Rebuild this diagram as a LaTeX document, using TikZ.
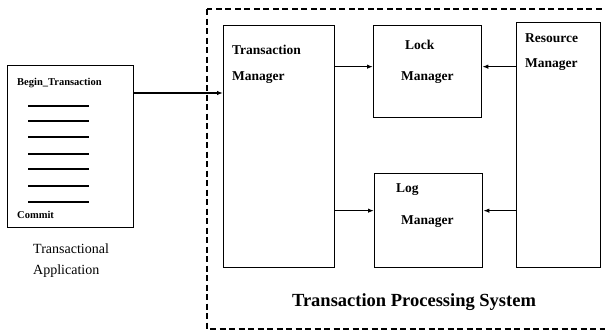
\documentclass[tikz,border=0pt]{standalone}
\usepackage{fontspec}
\setmainfont{Liberation Serif}
\usetikzlibrary{arrows.meta, calc}
\tikzset{
  box/.style = {draw, line width=1.3pt, anchor=north west, inner sep=0pt},
  lbl/.style = {anchor=west, inner sep=0pt, font=\fontsize{13.5}{15}\selectfont\bfseries},
  arr/.style = {line width=1.6pt, -{Latex[length=6pt, width=4.5pt]}},
  txline/.style = {line width=1.4pt}
}

\begin{document}
\begin{tikzpicture}[x=1pt, y=-1pt]
\useasboundingbox (0,0) rectangle (605,333);
\clip (0,0) rectangle (605,333);
% outer system
\draw[line width=1.5pt, dash pattern=on 6pt off 3.5pt] (207,9) rectangle (640,329);
\node[anchor=center, inner sep=0pt, font=\fontsize{18.5}{21}\selectfont\bfseries] (tps) at (414,302) {Transaction Processing System};
% application
\node[box, minimum width=126pt, minimum height=162pt] (app) at (7,65) {};
\node[lbl, font=\fontsize{10.5}{12}\selectfont\bfseries] (begin) at (17,83) {Begin\_Transaction};
\foreach \y in {106,121,137,154,169,186,202}
  \draw[txline] (28,\y) -- (89,\y);
\node[lbl, font=\fontsize{10.5}{12}\selectfont\bfseries] (commit) at (17,215) {Commit};
\node[anchor=west, inner sep=0pt, font=\fontsize{14}{16}\selectfont] (app1) at (33,249) {Transactional};
\node[anchor=west, inner sep=0pt, font=\fontsize{14}{16}\selectfont] (app2) at (33,271) {Application};
% managers
\node[box, minimum width=111pt, minimum height=242pt] (tm) at (223,25) {};
\node[lbl] (tm1) at (232,50) {Transaction};
\node[lbl] (tm2) at (232,78) {Manager};
\node[box, minimum width=108pt, minimum height=92pt] (lock) at (373,25) {};
\node[lbl] (lock1) at (405,45) {Lock};
\node[lbl] (lock2) at (401,78) {Manager};
\node[box, minimum width=108pt, minimum height=94pt] (log) at (374,173) {};
\node[lbl] (log1) at (396,190) {Log};
\node[lbl] (log2) at (401,222) {Manager};
\node[box, minimum width=84pt, minimum height=245pt] (rm) at (516,22) {};
\node[lbl] (rm1) at (525,38) {Resource};
\node[lbl] (rm2) at (525,65) {Manager};
% connectors
\coordinate (inTM) at (tm.west |- 0,93);
\coordinate (inLock) at ([yshift=5pt]lock.west);
\coordinate (inLockR) at ([yshift=5pt]lock.east);
\coordinate (inLog) at ([yshift=10pt]log.west);
\coordinate (inLogR) at ([yshift=10pt]log.east);
\draw[arr] (app.east |- inTM) -- (inTM);
\draw[arr] (tm.east |- inLock) -- (inLock);
\draw[arr] (rm.west |- inLockR) -- (inLockR);
\draw[arr] (tm.east |- inLog) -- (inLog);
\draw[arr] (rm.west |- inLogR) -- (inLogR);
\end{tikzpicture}
\end{document}
